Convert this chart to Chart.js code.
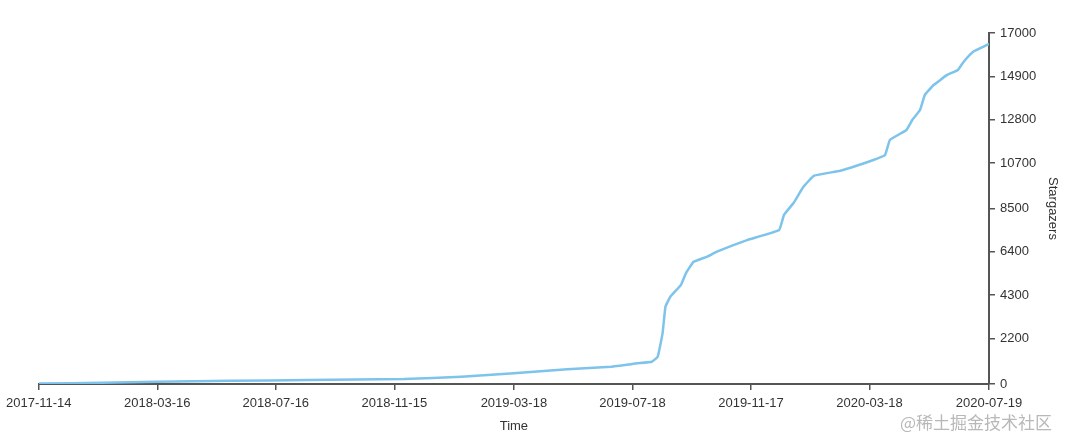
<!DOCTYPE html>
<html>
  <head>
    <meta charset="utf-8" />
    <script src="https://cdnjs.cloudflare.com/ajax/libs/Chart.js/4.4.1/chart.umd.js"></script>
    <style>
      body { margin: 0; background: #fff; }
      #wrap { position: relative; width: 1080px; height: 444px; }
      #mark {
        position: absolute; left: 900px; top: 409px;
        font: 17px "Noto Sans CJK SC", sans-serif; color: #b8b8b8;
        white-space: nowrap;
      }
    </style>
  </head>

  <body>
    <div id="wrap">
      <canvas id="stars" width="1080" height="444"></canvas>
      <div id="mark">@稀土掘金技术社区</div>
    </div>

  <script>
    // star history
    const dates = [
      "2017-11-14", "2018-01-18", "2018-03-15", "2018-05-31", "2018-08-18",
      "2018-11-25", "2019-01-23", "2019-03-18", "2019-05-12", "2019-06-26",
      "2019-07-23", "2019-08-07", "2019-08-13", "2019-08-18", "2019-08-21",
      "2019-08-26", "2019-09-06", "2019-09-11", "2019-09-19", "2019-10-03",
      "2019-10-13", "2019-11-13", "2019-12-16", "2019-12-21", "2019-12-31",
      "2020-01-10", "2020-01-21", "2020-02-17", "2020-03-22", "2020-04-03",
      "2020-04-08", "2020-04-25", "2020-05-01", "2020-05-09", "2020-05-14",
      "2020-05-23", "2020-06-06", "2020-06-17", "2020-06-23", "2020-07-03",
      "2020-07-17", "2020-07-19"
    ];
    const stars = [
      20, 60, 110, 160, 190,
      240, 355, 520, 710, 840,
      1000, 1080, 1320, 2450, 3740,
      4230, 4800, 5360, 5920, 6170,
      6410, 6970, 7460, 8190, 8780,
      9550, 10090, 10330, 10850, 11090,
      11820, 12300, 12790, 13270, 14000,
      14480, 14970, 15210, 15610, 16100,
      16420, 16470
    ];
    const xTickDates = [
      "2017-11-14", "2018-03-16", "2018-07-16", "2018-11-15", "2019-03-18",
      "2019-07-18", "2019-11-17", "2020-03-18", "2020-07-19"
    ];
    const yTicks = [0, 2200, 4300, 6400, 8500, 10700, 12800, 14900, 17000];

    function toDay(s) {
      let p = s.split("-");
      return Date.UTC(+p[0], +p[1] - 1, +p[2]) / 86400000;
    }

    let points = [];
    for (let i = 0; i < dates.length; i++) {
      points.push({ x: toDay(dates[i]), y: stars[i] });
    }
    const tickDays = xTickDates.map(toDay);

    const font = { family: "'Liberation Sans', Arial, sans-serif", size: 13 };
    const axisColor = "#555";

    new Chart(document.getElementById("stars"), {
      type: "line",
      data: {
        datasets: [
          {
            label: "Stargazers",
            data: points,
            borderColor: "rgb(125, 195, 235)",
            borderWidth: 2.5,
            pointRadius: 0,
            tension: 0.1,
          },
        ],
      },
      options: {
        responsive: false,
        animation: false,
        layout: { padding: { top: 33, left: 37, right: 0, bottom: 0 } },
        plugins: { legend: { display: false }, tooltip: { enabled: false } },
        scales: {
          x: {
            type: "linear",
            min: tickDays[0],
            max: tickDays[tickDays.length - 1],
            afterBuildTicks: (s) => { s.ticks = tickDays.map((v) => ({ value: v })); },
            afterFit: (s) => { s.height = 60; },
            ticks: {
              font: font, color: "#333", padding: 6, maxRotation: 0, autoSkip: false,
              callback: (v) => xTickDates[tickDays.indexOf(v)],
            },
            grid: { drawOnChartArea: false, tickLength: 6, color: axisColor, lineWidth: 1.5 },
            border: { color: axisColor, width: 2 },
            title: { display: true, text: "Time", font: font, color: "#333", padding: { top: 0, bottom: 10 } },
          },
          y: {
            position: "right",
            min: 0,
            max: 17000,
            afterBuildTicks: (s) => { s.ticks = yTicks.map((v) => ({ value: v })); },
            afterFit: (s) => { s.width = 91; },
            ticks: { font: font, color: "#333", padding: 5, autoSkip: false, callback: (v) => String(v) },
            grid: { drawOnChartArea: false, tickLength: 6, color: axisColor, lineWidth: 1.5 },
            border: { color: axisColor, width: 2 },
            title: { display: true, text: "Stargazers", font: font, color: "#333", padding: { top: 20, bottom: 0 } },
          },
        },
      },
    });
  </script>
  </body>
</html>
